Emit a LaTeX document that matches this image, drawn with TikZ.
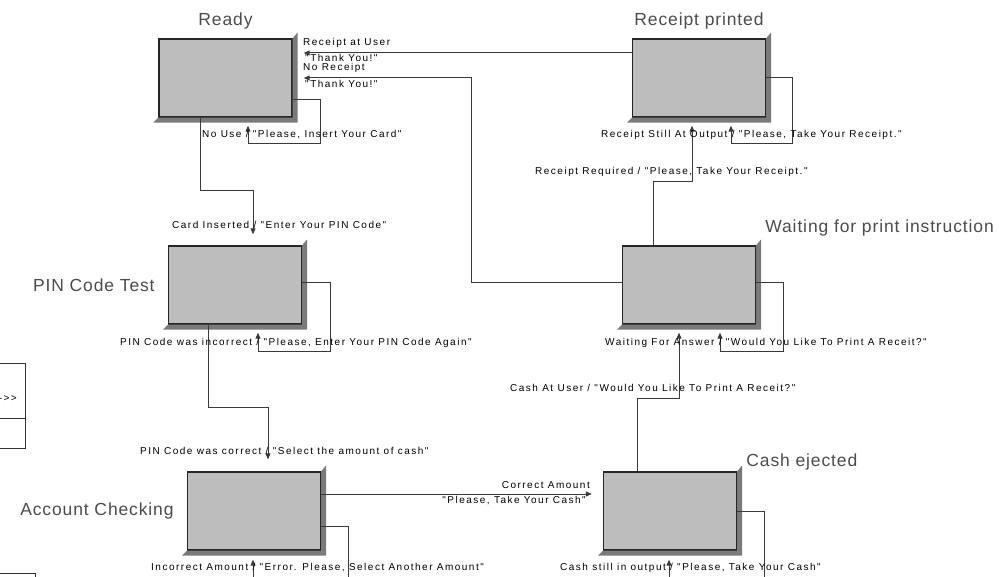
\documentclass[tikz,border=0pt]{standalone}
\usepackage{fontspec}
\setmainfont{Liberation Sans}
\newfontfamily\lblfont[LetterSpace=15]{Liberation Sans}
\newfontfamily\ttlfont[LetterSpace=5]{Liberation Sans}
\usetikzlibrary{arrows.meta,positioning}
\definecolor{boxgray}{HTML}{BDBDBD}
\definecolor{shadowgray}{HTML}{7A7A7A}
\definecolor{linegray}{HTML}{3A3A3A}
\tikzset{
  state/.style={draw=black!85,line width=1.4pt,fill=boxgray,
    minimum width=133pt,minimum height=78pt,inner sep=0pt},
  title/.style={font=\ttlfont\fontsize{17.5}{19}\selectfont,text=black!70,inner sep=0pt},
  lbl/.style={font=\lblfont\fontsize{10}{11}\selectfont,inner sep=0pt},
  arr/.style={draw=linegray,line width=1pt,-{Triangle[length=6pt,width=5pt]}},
  frag/.style={draw=black!80,line width=1pt},
}
\newcommand\boxshadow[1]{%
  \fill[shadowgray] (#1.north east) -- ++(5,-6) -- ([xshift=5pt,yshift=-5pt]#1.south east)
    -- ([xshift=-5pt,yshift=-5pt]#1.south west) -- (#1.south west) -- (#1.south east) -- cycle;}
\begin{document}
\begin{tikzpicture}[x=1pt,y=-1pt]
  \clip (0,0) rectangle (999,577);
  \fill[white] (0,0) rectangle (999,577);
  % states
  \node[state] (ready) at (225.5,78) {};
  \node[state] (receipt) at (699,78) {};
  \node[state] (pin) at (235,285) {};
  \node[state] (waiting) at (689,285) {};
  \node[state] (acct) at (254,511) {};
  \node[state] (cash) at (670,511) {};
  \boxshadow{ready}
  \boxshadow{receipt}
  \boxshadow{pin}
  \boxshadow{waiting}
  \boxshadow{acct}
  \boxshadow{cash}
  % state titles
  \node[title,above=9pt of ready] (readyT) {Ready};
  \node[title,above=9pt of receipt] (receiptT) {Receipt printed};
  \node[title,left=13pt of pin] (pinT) {PIN Code Test};
  \node[title,above right=17pt and 9pt of waiting.north east,anchor=west] (waitingT) {Waiting for print instruction};
  \node[title,above right=9pt and 9pt of cash.north east,anchor=west] (cashT) {Cash ejected};
  \node[title,left=13pt of acct] (acctT) {Account Checking};
  % transitions
  \draw[arr] ([yshift=25pt]receipt.west) -- ([xshift=11pt,yshift=25pt]ready.east);
  \draw[arr] ([yshift=2pt]waiting.west) -| (471,78) -- ([xshift=11pt]ready.east);
  \draw[arr] ([yshift=-22pt]ready.east) -| (320,144) -| ([xshift=22.5pt,yshift=-8pt]ready.south);
  \draw[arr] ([xshift=-25.5pt]ready.south) |- (253,191) -- ([xshift=18pt,yshift=11pt]pin.north);
  \draw[arr] ([yshift=2pt]pin.east) -| (330,352) -| ([xshift=23pt,yshift=-8pt]pin.south);
  \draw[arr] ([xshift=-27pt]pin.south) |- (268,407) -- ([xshift=14pt,yshift=12pt]acct.north);
  \draw[arr] ([yshift=17pt]acct.east) -- ([xshift=-11pt,yshift=17pt]cash.west);
  \draw[arr] ([yshift=-15pt]acct.east) -| (348,590) -| ([xshift=-1pt,yshift=-9pt]acct.south);
  \draw[arr] (cash.east) -| (764,590) -| ([xshift=-1pt,yshift=-9pt]cash.south);
  \draw[arr] ([xshift=-33pt]cash.north) |- (679,398) -- ([xshift=-10pt,yshift=-8pt]waiting.south);
  \draw[arr] ([yshift=2pt]waiting.east) -| (783,352) -| ([xshift=31pt,yshift=-8pt]waiting.south);
  \draw[arr] ([xshift=-36pt]waiting.north) |- (692,182) -- ([xshift=-7pt,yshift=-8pt]receipt.south);
  \draw[arr] (receipt.east) -| (792,144) -| ([xshift=32pt,yshift=-8pt]receipt.south);
  % transition labels
  \node[lbl,anchor=west] (l1a) at (303,43) {Receipt at User};
  \node[lbl,anchor=west] (l1b) at (305,58) {"Thank You!"};
  \node[lbl,anchor=west] (l2a) at (303,68) {No Receipt};
  \node[lbl,anchor=west] (l2b) at (305,84) {"Thank You!"};
  \node[lbl,anchor=west] (l3) at (202,135) {No Use / "Please, Insert Your Card"};
  \node[lbl,anchor=west] (l4) at (172,225) {Card Inserted / "Enter Your PIN Code"};
  \node[lbl,anchor=west] (l5) at (120,343) {PIN Code was incorrect / "Please, Enter Your PIN Code Again"};
  \node[lbl,anchor=west] (l6) at (140,451) {PIN Code was correct / "Select the amount of cash"};
  \node[lbl,anchor=east] (l7a) at (590,485) {Correct Amount};
  \node[lbl,anchor=east] (l7b) at (586,501) {"Please, Take Your Cash"};
  \node[lbl,anchor=west] (l8) at (151,568) {Incorrect Amount / "Error. Please, Select Another Amount"};
  \node[lbl,anchor=west] (l9) at (560,568) {Cash still in output / "Please, Take Your Cash"};
  \node[lbl,anchor=west] (l10) at (510,388) {Cash At User / "Would You Like To Print A Receit?"};
  \node[lbl,anchor=west] (l11) at (605,343) {Waiting For Answer / "Would You Like To Print A Receit?"};
  \node[lbl,anchor=west] (l12) at (535,172) {Receipt Required / "Please, Take Your Receipt."};
  \node[lbl,anchor=west] (l13) at (601,135) {Receipt Still At Output / "Please, Take Your Receipt."};
  % cut-off pieces at the left edge
  \draw[frag] (-2,364) -| (25,448) -- (-2,448);
  \draw[frag] (-2,418) -- (25,418);
  \node[lbl,anchor=east] (edgeT) at (17,399) {->>};
  \draw[frag] (-2,573) -| (35,580);
\end{tikzpicture}
\end{document}
